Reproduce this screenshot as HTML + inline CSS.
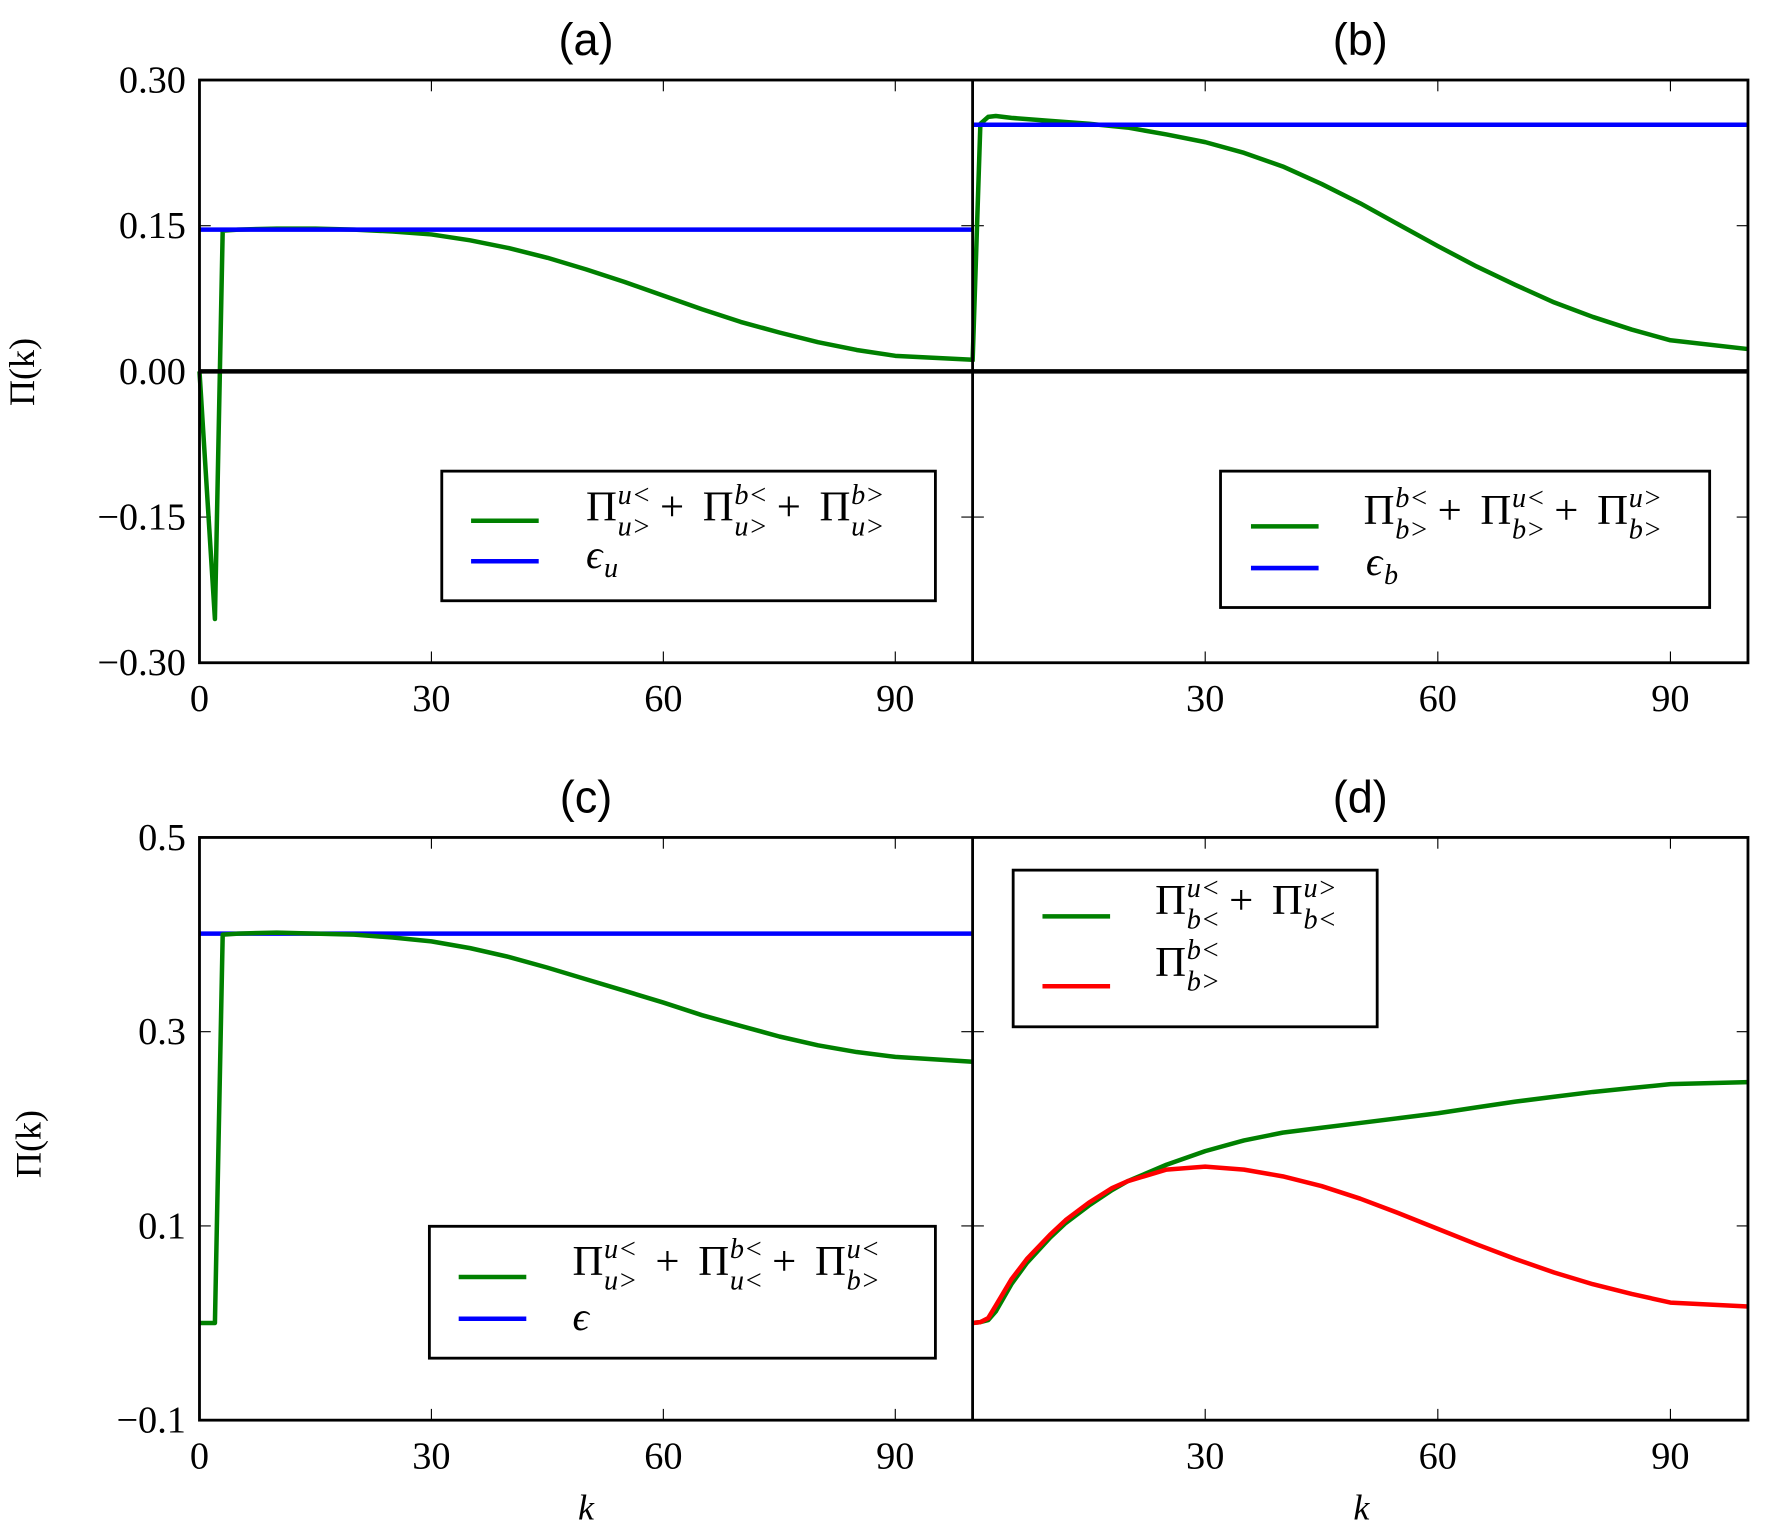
<!DOCTYPE html>
<html><head><meta charset="utf-8"><style>
html,body{margin:0;padding:0;background:#fff}
svg{display:block}
.tick{font-family:"Liberation Serif","DejaVu Serif",serif;font-size:34px;fill:#000}
.ttl{font-family:"Liberation Sans",sans-serif;font-size:40px;fill:#000}
.mth{font-family:"Liberation Serif","DejaVu Serif",serif;fill:#000}
</style></head><body>
<svg id="fig" width="1766" height="1534" viewBox="0 0 1567 1361" preserveAspectRatio="none" xmlns="http://www.w3.org/2000/svg">
<rect width="1567" height="1361" fill="#fff"/>
<g id="root"></g>
</svg>
<script>
// ---- data ----
const kA=[0,2,3,5,10,15,20,25,30,35,40,45,50,55,60,65,70,75,80,85,90,100];
const piA=[0,-0.255,0.145,0.146,0.147,0.147,0.146,0.144,0.141,0.135,0.127,0.117,0.105,0.092,0.078,0.064,0.051,0.040,0.030,0.022,0.016,0.012];
const epsA=[0.146];
const kB=[0,1,2,3,5,10,15,20,25,30,35,40,45,50,55,60,65,70,75,80,85,90,100];
const piB=[0.01,0.255,0.262,0.263,0.261,0.258,0.255,0.251,0.244,0.236,0.225,0.211,0.193,0.173,0.151,0.129,0.108,0.089,0.071,0.056,0.043,0.032,0.023];
const epsB=[0.254];
const kC=[0,2,3,5,10,15,20,25,30,35,40,45,50,55,60,65,70,75,80,85,90,100];
const piC=[0,0,0.40,0.401,0.402,0.401,0.400,0.397,0.393,0.386,0.377,0.366,0.354,0.342,0.330,0.317,0.306,0.295,0.286,0.279,0.274,0.269];
const epsC=[0.401];
const kD=[0,1,2,3,5,7,10,12,15,18,20,25,30,35,40,45,50,55,60,65,70,75,80,85,90,100];
const piDg=[0,0.001,0.003,0.012,0.040,0.062,0.088,0.103,0.121,0.137,0.146,0.163,0.177,0.188,0.196,0.201,0.206,0.211,0.216,0.222,0.228,0.233,0.238,0.242,0.246,0.248];
const piDr=[0,0.001,0.005,0.018,0.045,0.066,0.091,0.106,0.124,0.139,0.146,0.158,0.161,0.158,0.151,0.141,0.128,0.113,0.097,0.081,0.066,0.052,0.040,0.030,0.021,0.017];
const xTicks=[0,30,60,90];
const yTicksTop=[0.30,0.15,0.00,-0.15,-0.30];
const yTicksTopLbl=["0.30","0.15","0.00","\u22120.15","\u22120.30"];
const yTicksBot=[0.5,0.3,0.1,-0.1];
const yTicksBotLbl=["0.5","0.3","0.1","\u22120.1"];

const NS="http://www.w3.org/2000/svg";
const root=document.getElementById('root');
function el(tag,attrs,parent){const e=document.createElementNS(NS,tag);for(const k in attrs)e.setAttribute(k,attrs[k]);(parent||root).appendChild(e);return e;}
function xs(x0,x1){return k=>x0+(x1-x0)*k/100;}
function ys(y0,y1,v0,v1){return v=>y0+(y1-y0)*(v-v0)/(v1-v0);}

const topY=ys(71,588,0.30,-0.30), botY=ys(743,1260,0.5,-0.1);
const panels=[
 {id:'a',x0:177,x1:863,Y:topY,y0:71,y1:588,title:'(a)'},
 {id:'b',x0:863,x1:1551,Y:topY,y0:71,y1:588,title:'(b)'},
 {id:'c',x0:177,x1:863,Y:botY,y0:743,y1:1260,title:'(c)'},
 {id:'d',x0:863,x1:1551,Y:botY,y0:743,y1:1260,title:'(d)'}];

function line(ks,vs,X,Y,color,name){
  const d=ks.map((k,i)=>(i?'L':'M')+X(k).toFixed(1)+','+Y(vs[i]).toFixed(1)).join(' ');
  const p=el('path',{d:d,fill:'none',stroke:color,'stroke-width':4,'stroke-linejoin':'round'});
  
  
}
function hline(v,X,Y,color,name){
  const p=el('line',{x1:X(0),x2:X(100),y1:Y(v),y2:Y(v),stroke:color,'stroke-width':4});
  
  
}

panels.forEach(P=>{
  const X=xs(P.x0,P.x1);
  const g=el('g',{});
  
  
  const t=el('text',{x:(P.x0+P.x1)/2,y:P.y0-22,'text-anchor':'middle',class:'ttl'},g);
  t.textContent=P.title;
  
  
  const left=(P.id==='a'||P.id==='c');
  xTicks.forEach(k=>{
    el('line',{x1:X(k),x2:X(k),y1:P.y0,y2:P.y0+10,stroke:'#000','stroke-width':1},g);
    el('line',{x1:X(k),x2:X(k),y1:P.y1,y2:P.y1-10,stroke:'#000','stroke-width':1},g);
    if(k===0&&!left) return;
    const tl=el('text',{x:X(k),y:P.y1+43,'text-anchor':'middle',class:'tick'},g);
    tl.textContent=String(k);
    
    
  });
  const top=P.y0<700;
  const yt=top?yTicksTop:yTicksBot, yl=top?yTicksTopLbl:yTicksBotLbl;
  yt.forEach((v,i)=>{
    const y=P.Y(v);
    el('line',{x1:P.x0,x2:P.x0+10,y1:y,y2:y,stroke:'#000','stroke-width':1},g);
    el('line',{x1:P.x1,x2:P.x1-10,y1:y,y2:y,stroke:'#000','stroke-width':1},g);
    if(left){
      const tl=el('text',{x:P.x0-12,y:y+11,'text-anchor':'end',class:'tick'},g);
      tl.textContent=yl[i];
      
      
    }
  });
});

// series
line(kA,piA,xs(177,863),topY,'#008000','series-a-pi');
hline(epsA[0],xs(177,863),topY,'#0000ff','series-a-eps');
line(kB,piB,xs(863,1551),topY,'#008000','series-b-pi');
hline(epsB[0],xs(863,1551),topY,'#0000ff','series-b-eps');
hline(epsC[0],xs(177,863),botY,'#0000ff','series-c-eps');
line(kC,piC,xs(177,863),botY,'#008000','series-c-pi');
line(kD,piDg,xs(863,1551),botY,'#008000','series-d-green');
line(kD,piDr,xs(863,1551),botY,'#ff0000','series-d-red');

el('line',{x1:177,x2:1551,y1:topY(0),y2:topY(0),stroke:'#000','stroke-width':4});
[[71,588],[743,1260]].forEach(r=>{
  el('rect',{x:177,y:r[0],width:1374,height:r[1]-r[0],fill:'none',stroke:'#000','stroke-width':2.5});
  el('line',{x1:863,x2:863,y1:r[0],y2:r[1],stroke:'#000','stroke-width':2.5});
});

function pi(x,y,parent,sup,sub,fs){
  fs=fs||38;
  const t=el('text',{x:x,y:y,class:'mth','font-size':fs},parent);t.textContent='\u03A0';
  const s1=el('text',{x:x+28,y:y-15,class:'mth','font-size':fs*0.66,'font-style':'italic'},parent);s1.textContent=sup;
  const s2=el('text',{x:x+28,y:y+13,class:'mth','font-size':fs*0.66,'font-style':'italic'},parent);s2.textContent=sub;
  return x+28+fs*0.66*1.1;
}
function plus(x,y,parent){const t=el('text',{x:x+10,y:y,class:'mth','font-size':38},parent);t.textContent='+';return x+48;}
function legend(name,bx,by,bw,bh){
  const g=el('g',{});
  
  
  el('rect',{x:bx,y:by,width:bw,height:bh,fill:'#fff',stroke:'#000','stroke-width':2.5},g);
  return g;
}
function entryLine(g,x,y,color){el('line',{x1:x,x2:x+60,y1:y,y2:y,stroke:color,'stroke-width':4},g);}

let g=legend('legend-a',392,418,438,115);
entryLine(g,418,462,'#008000');
let x=pi(520,462,g,'u<','u>');x=plus(x,462,g);x=pi(x,462,g,'b<','u>');x=plus(x,462,g);pi(x,462,g,'b>','u>');
entryLine(g,418,498,'#0000ff');
let e=el('text',{x:520,y:504,class:'mth','font-size':36,'font-style':'italic'},g);e.textContent='\u03F5';
e=el('text',{x:536,y:512,class:'mth','font-size':25,'font-style':'italic'},g);e.textContent='u';

g=legend('legend-b',1083,418,434,121);
entryLine(g,1110,467,'#008000');
x=pi(1210,465,g,'b<','b>');x=plus(x,465,g);x=pi(x,465,g,'u<','b>');x=plus(x,465,g);pi(x,465,g,'u>','b>');
entryLine(g,1110,504,'#0000ff');
e=el('text',{x:1212,y:510,class:'mth','font-size':36,'font-style':'italic'},g);e.textContent='\u03F5';
e=el('text',{x:1228,y:518,class:'mth','font-size':25,'font-style':'italic'},g);e.textContent='b';

g=legend('legend-c',381,1088,449,117);
entryLine(g,407,1133,'#008000');
x=pi(508,1131,g,'u<','u>');x=plus(x+8,1131,g);x=pi(x,1131,g,'b<','u<');x=plus(x,1131,g);pi(x,1131,g,'u<','b>');
entryLine(g,407,1170,'#0000ff');
e=el('text',{x:508,y:1180,class:'mth','font-size':36,'font-style':'italic'},g);e.textContent='\u03F5';

g=legend('legend-d',899,772,323,139);
entryLine(g,925,813,'#008000');
x=pi(1025,811,g,'u<','b<');x=plus(x,811,g);pi(x,811,g,'u>','b<');
entryLine(g,925,875,'#ff0000');
pi(1025,866,g,'b<','b>');

[[30,330],[36,1015]].forEach(p=>{
  const t=el('text',{x:p[0],y:p[1],class:'mth','font-size':32,'text-anchor':'middle',transform:'rotate(-90 '+p[0]+' '+p[1]+')'});
  t.textContent='\u03A0(k)';
  
  
});
[520,1208].forEach(px=>{
  const t=el('text',{x:px,y:1348,class:'mth','font-size':32,'font-style':'italic','text-anchor':'middle'});
  t.textContent='k';
  
  
});
</script>
</body></html>
